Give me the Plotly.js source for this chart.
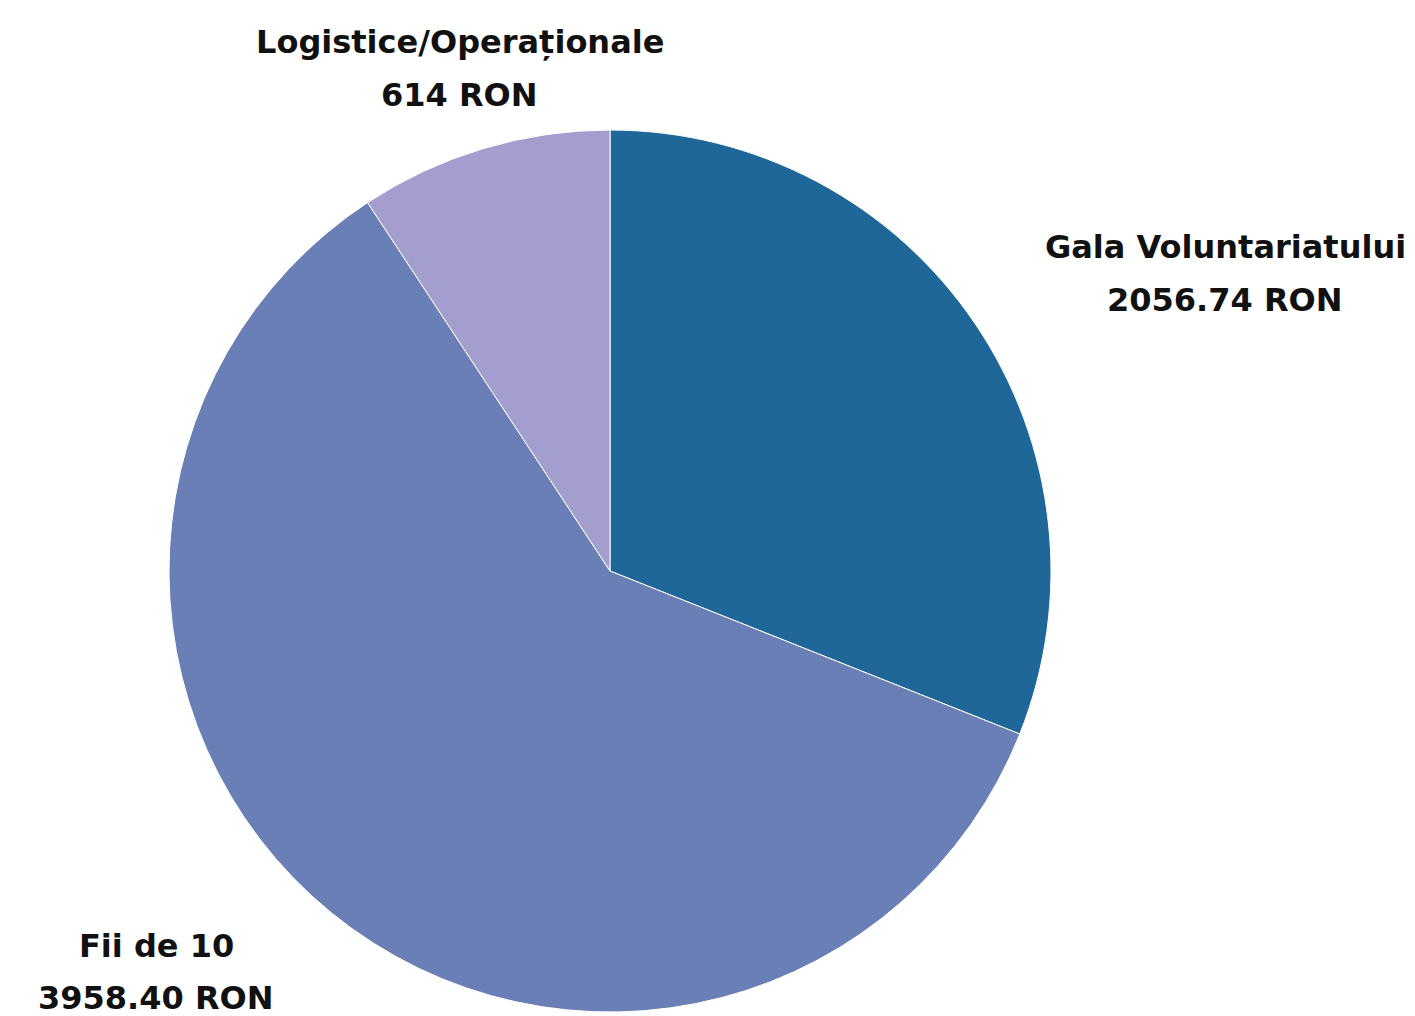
<!DOCTYPE html>
<html>
<head>
<meta charset="utf-8">
<script src="https://cdn.plot.ly/plotly-3.0.1.min.js"></script>
<style>html,body{margin:0;padding:0;background:#fff;}#chart{width:1415px;height:1016px;}</style>
</head>
<body>
<div id="chart"></div>
<script>
const categories = ["Gala Voluntariatului", "Fii de 10", "Logistice/Operaționale"];
const values = [2056.74, 3958.40, 614];
const valueLabels = ["2056.74 RON", "3958.40 RON", "614 RON"];
const colors = ["#1f6699", "#6b7fb7", "#a49ecf"];

// label anchor positions (pixel centers of the two text lines)
const labelPos = [
  {x: 1225, y1: 247, y2: 300},
  {x: 156, y1: 946, y2: 998},
  {x: 460, y1: 42, y2: 95}
];

const W = 1415, H = 1016;
const font = {family: "'DejaVu Sans', sans-serif", size: 32, color: "#111111", weight: "bold"};
const annotations = [];
categories.forEach((c, i) => {
  const p = labelPos[i];
  annotations.push({xref: "paper", yref: "paper", x: p.x / W, y: 1 - p.y1 / H, text: "<b>" + c + "</b>", showarrow: false, xanchor: "center", yanchor: "middle", font: font});
  annotations.push({xref: "paper", yref: "paper", x: p.x / W, y: 1 - p.y2 / H, text: "<b>" + valueLabels[i] + "</b>", showarrow: false, xanchor: "center", yanchor: "middle", font: font});
});

const data = [{
  type: "pie",
  labels: categories,
  values: values,
  sort: false,
  direction: "clockwise",
  rotation: 0,
  textinfo: "none",
  hoverinfo: "label+value",
  marker: {colors: colors, line: {color: "#ffffff", width: 1}},
  domain: {x: [169 / W, 1051 / W], y: [4 / H, 886 / H]}
}];

const layout = {
  width: W, height: H,
  margin: {l: 0, r: 0, t: 0, b: 0},
  paper_bgcolor: "#ffffff",
  showlegend: false,
  annotations: annotations
};

Plotly.newPlot("chart", data, layout, {displayModeBar: false, staticPlot: true});
</script>
</body>
</html>
